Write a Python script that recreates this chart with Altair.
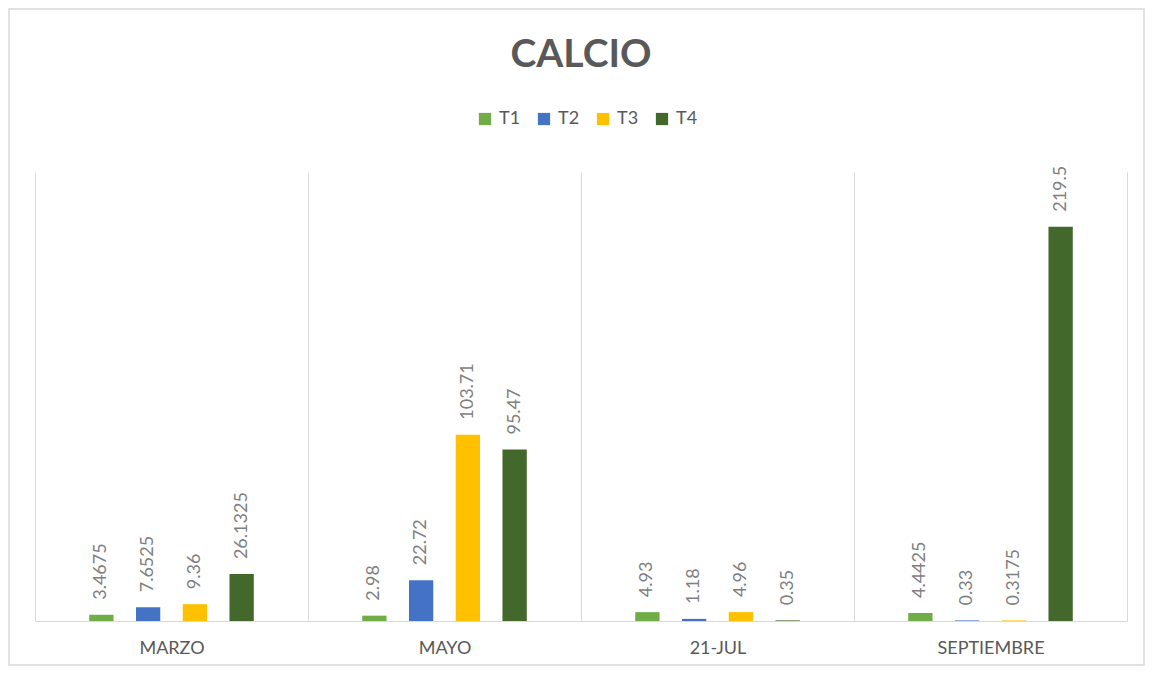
import altair as alt
import pandas as pd

categories = ["MARZO", "MAYO", "21-JUL", "SEPTIEMBRE"]
series = ["T1", "T2", "T3", "T4"]
t1 = [3.4675, 2.98, 4.93, 4.4425]
t2 = [7.6525, 22.72, 1.18, 0.33]
t3 = [9.36, 103.71, 4.96, 0.3175]
t4 = [26.1325, 95.47, 0.35, 219.5]
t1_lbl = ["3.4675", "2.98", "4.93", "4.4425"]
t2_lbl = ["7.6525", "22.72", "1.18", "0.33"]
t3_lbl = ["9.36", "103.71", "4.96", "0.3175"]
t4_lbl = ["26.1325", "95.47", "0.35", "219.5"]
colors = ["#70AD47", "#4472C4", "#FFC000", "#43682B"]

rows = []
for s, vals, lbls in zip(series, [t1, t2, t3, t4], [t1_lbl, t2_lbl, t3_lbl, t4_lbl]):
    for c, v, l in zip(categories, vals, lbls):
        rows.append({"mes": c, "serie": s, "valor": v, "etiqueta": l})
df = pd.DataFrame(rows)

W, H = 1092, 449
FONT = "Lato"
GRAY = "#595959"

x = alt.X("mes:N", sort=categories, title=None,
          scale=alt.Scale(paddingInner=0, paddingOuter=0),
          axis=alt.Axis(labelAngle=0, labelFontSize=18, labelColor=GRAY, labelFont=FONT,
                        labelPadding=18, ticks=False, domainColor="#d9d9d9",
                        grid=True, gridColor="#d9d9d9", tickBand="extent"))
xo = alt.XOffset("serie:N", sort=series,
                 scale=alt.Scale(range=[43, 230], paddingInner=0.48, paddingOuter=0.24))
y = alt.Y("valor:Q", scale=alt.Scale(domain=[0, 250]), axis=None)

bars = alt.Chart(df).mark_bar().encode(
    x=x, xOffset=xo, y=y,
    color=alt.Color("serie:N", sort=series,
                    scale=alt.Scale(domain=series, range=colors),
                    legend=alt.Legend(title=None, orient="none", direction="horizontal",
                                      legendX=441, legendY=-62, symbolType="square",
                                      symbolSize=150, symbolStrokeWidth=0,
                                      labelFontSize=18, labelColor=GRAY, labelFont=FONT,
                                      labelOffset=5, columnPadding=14))
)

text = alt.Chart(df).mark_text(angle=270, align="left", baseline="middle", dx=15,
                                fontSize=18, color="#7f7f7f", font=FONT).encode(
    x=x, xOffset=xo, y=y, text="etiqueta:N"
)

border = alt.Chart(pd.DataFrame({"a": [0]})).mark_rect(
    fill=None, stroke="#d9d9d9", strokeWidth=1.5
).encode(x=alt.value(-26), x2=alt.value(W + 17), y=alt.value(-163), y2=alt.value(H + 44))

chart = alt.layer(border, bars, text).properties(
    width=W, height=H,
    title=alt.TitleParams("CALCIO", fontSize=39, font=FONT, fontWeight="bold",
                          color=GRAY, anchor="middle", offset=-67),
    padding={"left": 27, "top": 164, "right": 18, "bottom": 45},
    autosize=alt.AutoSizeParams(type="none"),
).configure_view(stroke=None)

chart.save("out.html", embed_options={"renderer": "svg", "actions": False})
